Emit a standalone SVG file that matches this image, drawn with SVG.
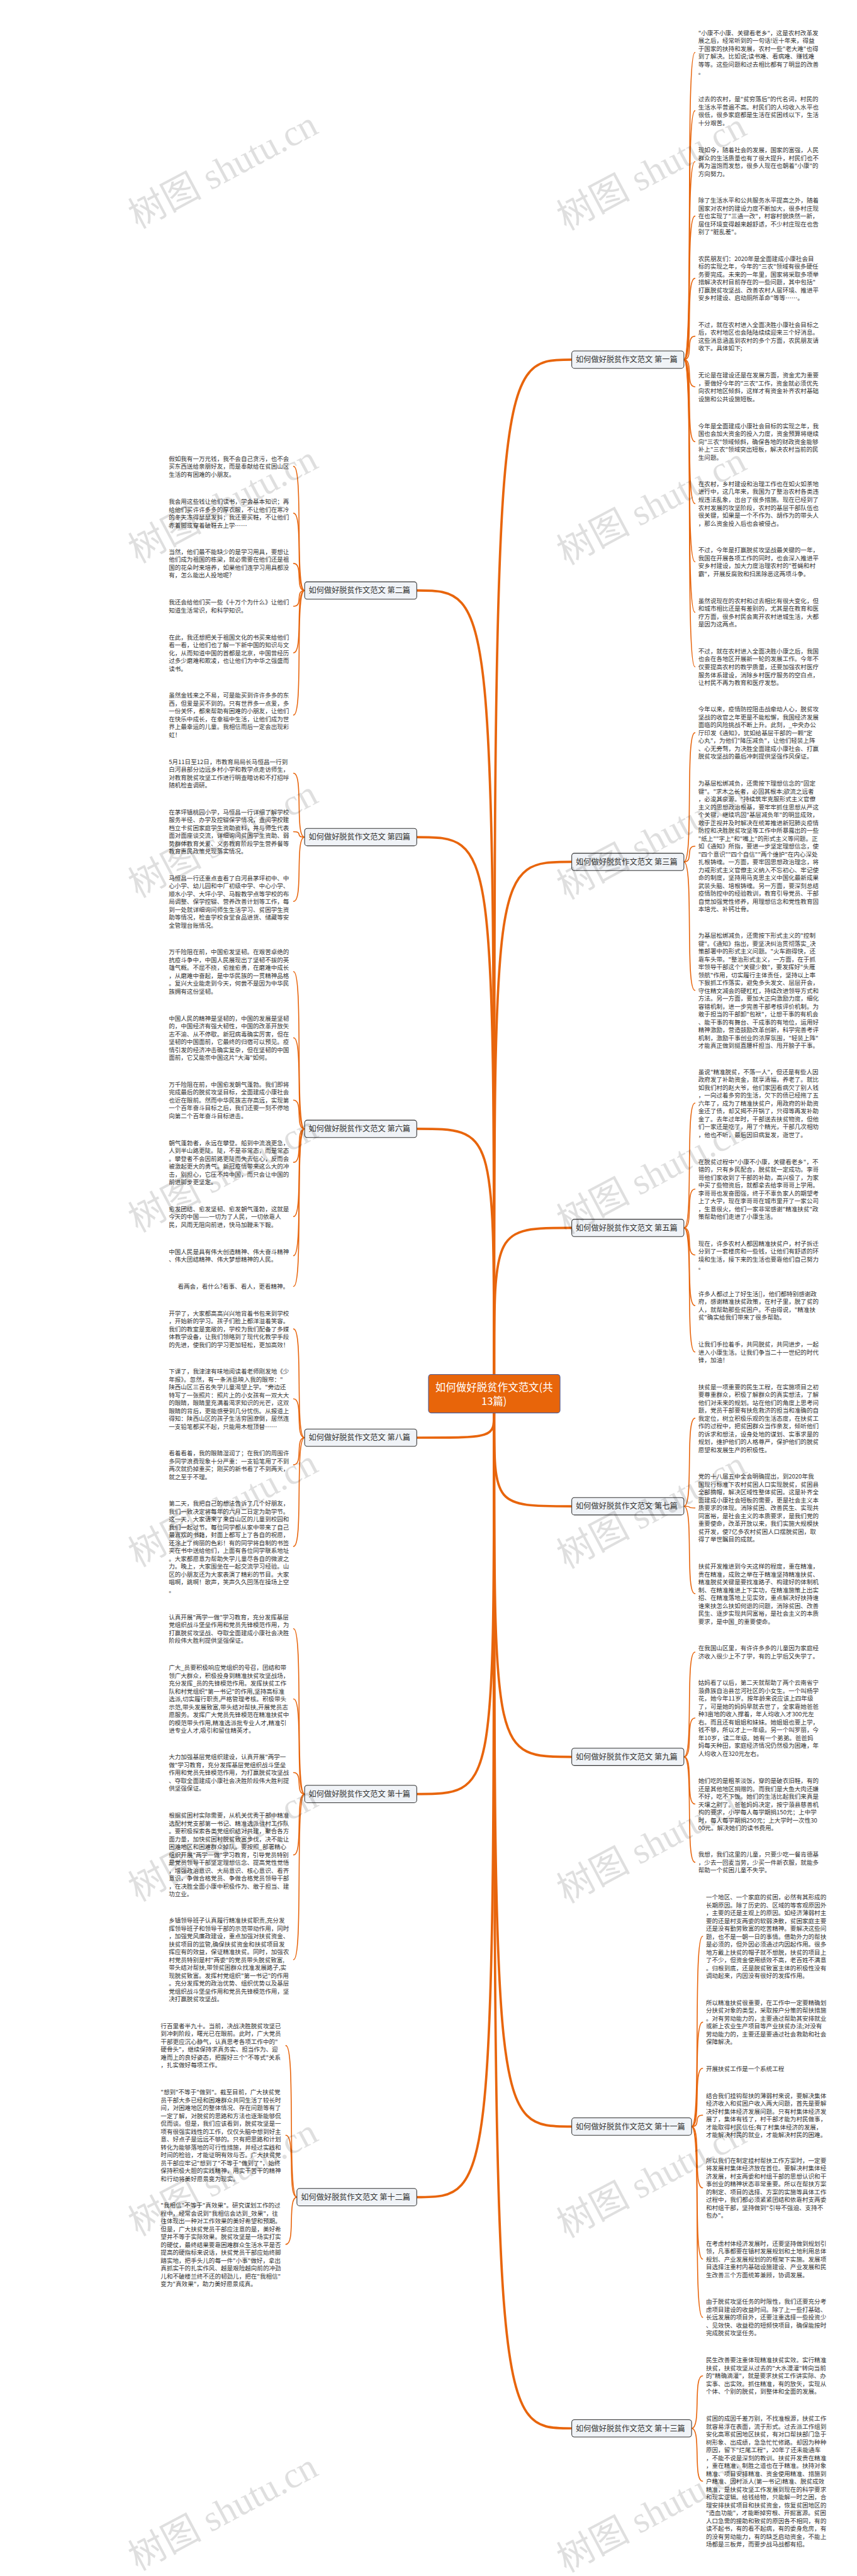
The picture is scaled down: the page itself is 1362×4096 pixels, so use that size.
<svg xmlns="http://www.w3.org/2000/svg" width="1362" height="4096" viewBox="0 0 1362 4096">
<style>
.t{font-family:"Noto Sans CJK SC","Noto Sans",sans-serif;font-size:18px;fill:#333}
.n{font-family:"Noto Sans CJK SC","Noto Sans",sans-serif;font-size:23px;fill:#333}
.nb{fill:#f0f3f7;stroke:#333;stroke-width:2}
.c{fill:none;stroke:#E8650C;stroke-width:3;stroke-linecap:round}
.m{stroke-width:7}
.wm{font-family:"Liberation Serif","Noto Sans CJK SC",serif;font-size:110px;fill:#000;opacity:.12}
</style>
<rect width="1362" height="4096" fill="#fff"/>
<g transform="scale(0.532)">
<g id="connectors">
<path class="c m" d="M1476,4108 C1476,1075 1476,1075 1708,1075"/>
<path class="c m" d="M1476,4108 C1476,1765 1476,1765 1245,1765"/>
<path class="c m" d="M1476,4108 C1476,2576 1476,2576 1708,2576"/>
<path class="c m" d="M1476,4108 C1476,2502 1476,2502 1245,2502"/>
<path class="c m" d="M1476,4108 C1476,3670 1476,3670 1708,3670"/>
<path class="c m" d="M1476,4108 C1476,3374 1476,3374 1245,3374"/>
<path class="c m" d="M1476,4223 C1476,4502 1476,4502 1708,4502"/>
<path class="c m" d="M1476,4223 C1476,4297 1476,4297 1245,4297"/>
<path class="c m" d="M1476,4223 C1476,5251 1476,5251 1708,5251"/>
<path class="c m" d="M1476,4223 C1476,5362 1476,5362 1245,5362"/>
<path class="c m" d="M1476,4223 C1476,6356 1476,6356 1708,6356"/>
<path class="c m" d="M1476,4223 C1476,6567 1476,6567 1245,6567"/>
<path class="c m" d="M1476,4223 C1476,7258 1476,7258 1708,7258"/>
<path class="c" d="M2043,1075 C2073,1075 2046,157 2076,157"/>
<path class="c" d="M2043,1075 C2073,1075 2046,331 2076,331"/>
<path class="c" d="M2043,1075 C2073,1075 2046,483 2076,483"/>
<path class="c" d="M2043,1075 C2073,1075 2046,646 2076,646"/>
<path class="c" d="M2043,1075 C2073,1075 2046,832 2076,832"/>
<path class="c" d="M2043,1075 C2073,1075 2046,1005 2076,1005"/>
<path class="c" d="M2043,1075 C2073,1075 2046,1156 2076,1156"/>
<path class="c" d="M2043,1075 C2073,1075 2046,1320 2076,1320"/>
<path class="c" d="M2043,1075 C2073,1075 2046,1505 2076,1505"/>
<path class="c" d="M2043,1075 C2073,1075 2046,1679 2076,1679"/>
<path class="c" d="M2043,1075 C2073,1075 2046,1830 2076,1830"/>
<path class="c" d="M2043,1075 C2073,1075 2046,1993 2076,1993"/>
<path class="c" d="M2043,2576 C2073,2576 2046,2190 2076,2190"/>
<path class="c" d="M2043,2576 C2073,2576 2046,2529 2076,2529"/>
<path class="c" d="M2043,2576 C2073,2576 2046,2960 2076,2960"/>
<path class="c" d="M2043,3670 C2073,3670 2046,3297 2076,3297"/>
<path class="c" d="M2043,3670 C2073,3670 2046,3554 2076,3554"/>
<path class="c" d="M2043,3670 C2073,3670 2046,3751 2076,3751"/>
<path class="c" d="M2043,3670 C2073,3670 2046,3902 2076,3902"/>
<path class="c" d="M2043,3670 C2073,3670 2046,4041 2076,4041"/>
<path class="c" d="M2043,4502 C2073,4502 2046,4239 2076,4239"/>
<path class="c" d="M2043,4502 C2073,4502 2046,4507 2076,4507"/>
<path class="c" d="M2043,4502 C2073,4502 2046,4763 2076,4763"/>
<path class="c" d="M2043,5251 C2073,5251 2046,4938 2076,4938"/>
<path class="c" d="M2043,5251 C2073,5251 2046,5135 2076,5135"/>
<path class="c" d="M2043,5251 C2073,5251 2046,5392 2076,5392"/>
<path class="c" d="M2043,5251 C2073,5251 2046,5566 2076,5566"/>
<path class="c" d="M2066,6356 C2096,6356 2069,5787 2099,5787"/>
<path class="c" d="M2066,6356 C2096,6356 2069,6044 2099,6044"/>
<path class="c" d="M2066,6356 C2096,6356 2069,6182 2099,6182"/>
<path class="c" d="M2066,6356 C2096,6356 2069,6322 2099,6322"/>
<path class="c" d="M2066,6356 C2096,6356 2069,6539 2099,6539"/>
<path class="c" d="M2066,6356 C2096,6356 2069,6752 2099,6752"/>
<path class="c" d="M2066,6356 C2096,6356 2069,6926 2099,6926"/>
<path class="c" d="M2066,7258 C2096,7258 2069,7101 2099,7101"/>
<path class="c" d="M2066,7258 C2096,7258 2069,7416 2099,7416"/>
<path class="c" d="M910,1765 C880,1765 907,1394 877,1394"/>
<path class="c" d="M910,1765 C880,1765 907,1534 877,1534"/>
<path class="c" d="M910,1765 C880,1765 907,1684 877,1684"/>
<path class="c" d="M910,1765 C880,1765 907,1812 877,1812"/>
<path class="c" d="M910,1765 C880,1765 907,1951 877,1951"/>
<path class="c" d="M910,1765 C880,1765 907,2137 877,2137"/>
<path class="c" d="M910,2502 C880,2502 907,2311 877,2311"/>
<path class="c" d="M910,2502 C880,2502 907,2486 877,2486"/>
<path class="c" d="M910,2502 C880,2502 907,2694 877,2694"/>
<path class="c" d="M910,3374 C880,3374 907,2904 877,2904"/>
<path class="c" d="M910,3374 C880,3374 907,3102 877,3102"/>
<path class="c" d="M910,3374 C880,3374 907,3288 877,3288"/>
<path class="c" d="M910,3374 C880,3374 907,3474 877,3474"/>
<path class="c" d="M910,3374 C880,3374 907,3636 877,3636"/>
<path class="c" d="M910,3374 C880,3374 907,3753 877,3753"/>
<path class="c" d="M910,3374 C880,3374 907,3845 877,3845"/>
<path class="c" d="M910,4297 C880,4297 907,3972 877,3972"/>
<path class="c" d="M910,4297 C880,4297 907,4181 877,4181"/>
<path class="c" d="M910,4297 C880,4297 907,4378 877,4378"/>
<path class="c" d="M910,4297 C880,4297 907,4622 877,4622"/>
<path class="c" d="M910,5362 C880,5362 907,4868 877,4868"/>
<path class="c" d="M910,5362 C880,5362 907,5078 877,5078"/>
<path class="c" d="M910,5362 C880,5362 907,5298 877,5298"/>
<path class="c" d="M910,5362 C880,5362 907,5544 877,5544"/>
<path class="c" d="M910,5362 C880,5362 907,5857 877,5857"/>
<path class="c" d="M887,6567 C857,6567 884,6114 854,6114"/>
<path class="c" d="M887,6567 C857,6567 884,6382 854,6382"/>
<path class="c" d="M887,6567 C857,6567 884,6708 854,6708"/>
</g>

<g id="center">
<rect x="1280" y="4108" width="393" height="115" rx="8" fill="#E8650A" stroke="#4B5C9A" stroke-width="2"/>
<text x="1476" y="4158" text-anchor="middle" font-family="Noto Sans CJK SC, sans-serif" font-size="31" fill="#fff">如何做好脱贫作文范文(共</text>
<text x="1476" y="4199" text-anchor="middle" font-family="Noto Sans CJK SC, sans-serif" font-size="31" fill="#fff">13篇)</text>
</g>

<g id="n1"><rect class="nb" x="1708" y="1049" width="335" height="52" rx="8"/><text class="n" x="1720" y="1083">如何做好脱贫作文范文 第一篇</text></g>
<g id="n2"><rect class="nb" x="910" y="1739" width="335" height="52" rx="8"/><text class="n" x="922" y="1773">如何做好脱贫作文范文 第二篇</text></g>
<g id="n3"><rect class="nb" x="1708" y="2550" width="335" height="52" rx="8"/><text class="n" x="1720" y="2584">如何做好脱贫作文范文 第三篇</text></g>
<g id="n4"><rect class="nb" x="910" y="2476" width="335" height="52" rx="8"/><text class="n" x="922" y="2510">如何做好脱贫作文范文 第四篇</text></g>
<g id="n5"><rect class="nb" x="1708" y="3644" width="335" height="52" rx="8"/><text class="n" x="1720" y="3678">如何做好脱贫作文范文 第五篇</text></g>
<g id="n6"><rect class="nb" x="910" y="3348" width="335" height="52" rx="8"/><text class="n" x="922" y="3382">如何做好脱贫作文范文 第六篇</text></g>
<g id="n7"><rect class="nb" x="1708" y="4476" width="335" height="52" rx="8"/><text class="n" x="1720" y="4510">如何做好脱贫作文范文 第七篇</text></g>
<g id="n8"><rect class="nb" x="910" y="4271" width="335" height="52" rx="8"/><text class="n" x="922" y="4305">如何做好脱贫作文范文 第八篇</text></g>
<g id="n9"><rect class="nb" x="1708" y="5225" width="335" height="52" rx="8"/><text class="n" x="1720" y="5259">如何做好脱贫作文范文 第九篇</text></g>
<g id="n10"><rect class="nb" x="910" y="5336" width="335" height="52" rx="8"/><text class="n" x="922" y="5370">如何做好脱贫作文范文 第十篇</text></g>
<g id="n11"><rect class="nb" x="1708" y="6330" width="358" height="52" rx="8"/><text class="n" x="1720" y="6364">如何做好脱贫作文范文 第十一篇</text></g>
<g id="n12"><rect class="nb" x="887" y="6541" width="358" height="52" rx="8"/><text class="n" x="899" y="6575">如何做好脱贫作文范文 第十二篇</text></g>
<g id="n13"><rect class="nb" x="1708" y="7232" width="358" height="52" rx="8"/><text class="n" x="1720" y="7266">如何做好脱贫作文范文 第十三篇</text></g>

<g id="r1"><text class="t" y="105"><tspan x="2086">"小康不小康、关键看老乡"，这是农村改革发</tspan><tspan x="2086" dy="23.5">展之后，经常听到的一句话!近十年来，得益</tspan><tspan x="2086" dy="23.5">于国家的扶持和发展，农村一些"老大难"也得</tspan><tspan x="2086" dy="23.5">到了解决。比如说;读书难、看病难、赚钱难</tspan><tspan x="2086" dy="23.5">等等。这些问题和过去相比都有了明显的改善</tspan><tspan x="2086" dy="23.5">。</tspan></text></g>
<g id="r2"><text class="t" y="303"><tspan x="2086">过去的农村，是"贫穷落后"的代名词，村民的</tspan><tspan x="2086" dy="23.5">生活水平普遍不高。村民们的人均收入水平也</tspan><tspan x="2086" dy="23.5">很低，很多家庭都是生活在贫困线以下，生活</tspan><tspan x="2086" dy="23.5">十分艰苦。</tspan></text></g>
<g id="r3"><text class="t" y="455"><tspan x="2086">现如今，随着社会的发展，国家的富强，人民</tspan><tspan x="2086" dy="23.5">群众的生活质量也有了很大提升，村民们也不</tspan><tspan x="2086" dy="23.5">再为温饱而发愁，很多人现在也朝着"小康"的</tspan><tspan x="2086" dy="23.5">方向努力。</tspan></text></g>
<g id="r4"><text class="t" y="606"><tspan x="2086">除了生活水平和公共服务水平提高之外，随着</tspan><tspan x="2086" dy="23.5">国家对农村的建设力度不断加大，很多村庄现</tspan><tspan x="2086" dy="23.5">在也实现了"三通一改"，村容村貌焕然一新，</tspan><tspan x="2086" dy="23.5">居住环境变得越来越舒适，不少村庄现在也告</tspan><tspan x="2086" dy="23.5">别了"脏乱差"。</tspan></text></g>
<g id="r5"><text class="t" y="780"><tspan x="2086">农民朋友们：2020年是全面建成小康社会目</tspan><tspan x="2086" dy="23.5">标的实现之年，今年的"三农"领域有很多硬任</tspan><tspan x="2086" dy="23.5">务要完成。未来的一年里，国家将采取多项举</tspan><tspan x="2086" dy="23.5">措解决农村目前存在的一些问题，其中包括"</tspan><tspan x="2086" dy="23.5">打赢脱贫攻坚战、改善农村人居环境、推进平</tspan><tspan x="2086" dy="23.5">安乡村建设、启动厕所革命"等等……。</tspan></text></g>
<g id="r6"><text class="t" y="977"><tspan x="2086">不过，就在农村进入全面决胜小康社会目标之</tspan><tspan x="2086" dy="23.5">后，农村地区也会陆陆续续迎来三个好消息。</tspan><tspan x="2086" dy="23.5">这些消息涵盖到农村的多个方面，农民朋友请</tspan><tspan x="2086" dy="23.5">收下。具体如下;</tspan></text></g>
<g id="r7"><text class="t" y="1128"><tspan x="2086">无论是在建设还是在发展方面，资金尤为重要</tspan><tspan x="2086" dy="23.5">，要做好今年的"三农"工作，资金就必须优先</tspan><tspan x="2086" dy="23.5">向农村地区倾斜，这样才有资金补齐农村基础</tspan><tspan x="2086" dy="23.5">设施和公共设施短板。</tspan></text></g>
<g id="r8"><text class="t" y="1280"><tspan x="2086">今年是全面建成小康社会目标的实现之年，我</tspan><tspan x="2086" dy="23.5">国也会加大资金的投入力度，资金预算将继续</tspan><tspan x="2086" dy="23.5">向"三农"领域倾斜，确保各地的财政资金能够</tspan><tspan x="2086" dy="23.5">补上"三农"领域突出短板，解决农村当前的民</tspan><tspan x="2086" dy="23.5">生问题。</tspan></text></g>
<g id="r9"><text class="t" y="1453"><tspan x="2086">在农村，乡村建设和治理工作也在如火如荼地</tspan><tspan x="2086" dy="23.5">进行中，这几年来，我国为了整治农村各类违</tspan><tspan x="2086" dy="23.5">规违法乱象，出台了很多措施。现在已经到了</tspan><tspan x="2086" dy="23.5">农村发展的攻坚阶段，农村的基层干部队伍也</tspan><tspan x="2086" dy="23.5">很关键，如果是一个不作为、胡作为的带头人</tspan><tspan x="2086" dy="23.5">，那么资金投入后也会被侵占。</tspan></text></g>
<g id="r10"><text class="t" y="1651"><tspan x="2086">不过，今年是打赢脱贫攻坚战最关键的一年，</tspan><tspan x="2086" dy="23.5">我国在开展各项工作的同时，也会深入推进平</tspan><tspan x="2086" dy="23.5">安乡村建设，加大力度治理农村的"苍蝇和村</tspan><tspan x="2086" dy="23.5">霸"，开展反腐败和扫黑除恶这两项斗争。</tspan></text></g>
<g id="r11"><text class="t" y="1802"><tspan x="2086">虽然说现在的农村和过去相比有很大变化，但</tspan><tspan x="2086" dy="23.5">和城市相比还是有差别的，尤其是在教育和医</tspan><tspan x="2086" dy="23.5">疗方面，很多村民会离开农村进城生活，大都</tspan><tspan x="2086" dy="23.5">是因为这两点。</tspan></text></g>
<g id="r12"><text class="t" y="1953"><tspan x="2086">不过，就在农村进入全面决胜小康之后，我国</tspan><tspan x="2086" dy="23.5">也会在各地区开展新一轮的发展工作。今年不</tspan><tspan x="2086" dy="23.5">仅要提高农村的教学质量，还要加强农村医疗</tspan><tspan x="2086" dy="23.5">服务体系建设，消除乡村医疗服务的空白点，</tspan><tspan x="2086" dy="23.5">让村民不再为教育和医疗发愁。</tspan></text></g>
<g id="r13"><text class="t" y="2126"><tspan x="2086">今年以来，疫情防控阻击战牵动人心，脱贫攻</tspan><tspan x="2086" dy="23.5">坚战的收官之年更是不能松懈，我国经济发展</tspan><tspan x="2086" dy="23.5">面临的风险挑战不断上升。此刻，_中央办公</tspan><tspan x="2086" dy="23.5">厅印发《通知》，犹如给基层干部的一颗"定</tspan><tspan x="2086" dy="23.5">心丸"，为他们"降压减负"，让他们轻装上阵</tspan><tspan x="2086" dy="23.5">、心无旁骛，为决胜全面建成小康社会、打赢</tspan><tspan x="2086" dy="23.5">脱贫攻坚战的最后冲刺提供坚强作风保证。</tspan></text></g>
<g id="r14"><text class="t" y="2348"><tspan x="2086">为基层松绑减负，还需按下理想信念的"固定</tspan><tspan x="2086" dy="23.5">键"。"求木之长者，必固其根本;欲流之远者</tspan><tspan x="2086" dy="23.5">，必浚其泉源。"持续筑牢克服形式主义官僚</tspan><tspan x="2086" dy="23.5">主义的思想政治根基，要牢牢抓住思想从严这</tspan><tspan x="2086" dy="23.5">个关键，继续巩固"基层减负年"的明显成效，</tspan><tspan x="2086" dy="23.5">敢于正视并及时解决在统筹推进新冠肺炎疫情</tspan><tspan x="2086" dy="23.5">防控和决胜脱贫攻坚等工作中所暴露出的一些</tspan><tspan x="2086" dy="23.5">"纸上""字上"和"嘴上"的形式主义等问题。正</tspan><tspan x="2086" dy="23.5">如《通知》所指，要进一步坚定理想信念，使</tspan><tspan x="2086" dy="23.5">"四个意识""四个自信""两个维护"在内心深处</tspan><tspan x="2086" dy="23.5">扎根铸魂。一方面，要牢固思想政治理念，将</tspan><tspan x="2086" dy="23.5">力戒形式主义官僚主义纳入不忘初心、牢记使</tspan><tspan x="2086" dy="23.5">命的制度，坚持用马克思主义中国化最新成果</tspan><tspan x="2086" dy="23.5">武装头脑、培根铸魂。另一方面，要深刻总结</tspan><tspan x="2086" dy="23.5">疫情防控中的经验教训，教育引导党员、干部</tspan><tspan x="2086" dy="23.5">自觉加强党性修养，用理想信念和党性教育固</tspan><tspan x="2086" dy="23.5">本培元、补钙壮骨。</tspan></text></g>
<g id="r15"><text class="t" y="2803"><tspan x="2086">为基层松绑减负，还需按下形式主义的"控制</tspan><tspan x="2086" dy="23.5">键"。《通知》指出，要坚决纠治贯彻落实_决</tspan><tspan x="2086" dy="23.5">策部署中的形式主义问题。"火车跑得快，还</tspan><tspan x="2086" dy="23.5">靠车头带。"整治形式主义，一方面，在于抓</tspan><tspan x="2086" dy="23.5">牢领导干部这个"关键少数"，要发挥好"头雁</tspan><tspan x="2086" dy="23.5">领航"作用，切实履行主体责任，坚持以上率</tspan><tspan x="2086" dy="23.5">下狠抓工作落实，避免多头发文、层层开会，</tspan><tspan x="2086" dy="23.5">守住精文减会的硬杠杠，持续改进领导方式和</tspan><tspan x="2086" dy="23.5">方法。另一方面，要加大正向激励力度，细化</tspan><tspan x="2086" dy="23.5">容错机制，进一步完善干部考核评价机制。为</tspan><tspan x="2086" dy="23.5">敢于担当的干部卸"包袱"，让想干事的有机会</tspan><tspan x="2086" dy="23.5">、能干事的有舞台、干成事的有地位，运用好</tspan><tspan x="2086" dy="23.5">精神激励，营造鼓励改革创新，科学完善考评</tspan><tspan x="2086" dy="23.5">机制，激励干事创业的浓厚氛围，"轻装上阵"</tspan><tspan x="2086" dy="23.5">才能真正做到挺直腰杆担当、甩开膀子干事。</tspan></text></g>
<g id="r16"><text class="t" y="3210"><tspan x="2086">虽说"精准脱贫，不落一人"，但还是有些人因</tspan><tspan x="2086" dy="23.5">政府发了补助资金，就享清福，养老了。就比</tspan><tspan x="2086" dy="23.5">如我们村的赵大爷，他们家因看病欠了别人钱</tspan><tspan x="2086" dy="23.5">，一向过着多穷的生活，欠下的债已经拖了五</tspan><tspan x="2086" dy="23.5">六年了，成为了精准扶贫户，用政府的补助资</tspan><tspan x="2086" dy="23.5">金还了债，却又揭不开锅了，只得等再发补助</tspan><tspan x="2086" dy="23.5">金了。去年过年时，干部送去扶贫物资，但他</tspan><tspan x="2086" dy="23.5">们一家还是吃了，用了个精光，干部几次相劝</tspan><tspan x="2086" dy="23.5">，他也不听，最后因旧病复发，逝世了。</tspan></text></g>
<g id="r17"><text class="t" y="3479"><tspan x="2086">在脱贫过程中"小康不小康，关键看老乡"，不</tspan><tspan x="2086" dy="23.5">错的，只有乡民配合，脱贫就一定成功。李哥</tspan><tspan x="2086" dy="23.5">哥他们家收到了干部的补助，高兴极了，为家</tspan><tspan x="2086" dy="23.5">中买了些物资后，就都拿去给李哥哥上学用。</tspan><tspan x="2086" dy="23.5">李哥哥也发奋图强，终于不辜负家人的期望考</tspan><tspan x="2086" dy="23.5">上了大学，现在李哥哥在城市里开了一家公司</tspan><tspan x="2086" dy="23.5">，生意很火，他们一家非常感谢"精准扶贫"政</tspan><tspan x="2086" dy="23.5">策帮助他们走进了小康生活。</tspan></text></g>
<g id="r18"><text class="t" y="3723"><tspan x="2086">现在，许多农村人都因精准扶贫户，村子拆迁</tspan><tspan x="2086" dy="23.5">分到了一套楼房和一些钱，让他们有舒适的环</tspan><tspan x="2086" dy="23.5">境和生活，接下来的生活也要靠他们自己努力</tspan><tspan x="2086" dy="23.5">。</tspan></text></g>
<g id="r19"><text class="t" y="3874"><tspan x="2086">许多人都过上了好生活[]，他们都特别感谢政</tspan><tspan x="2086" dy="23.5">府，感谢精准扶贫政策，在村子里，脱了贫的</tspan><tspan x="2086" dy="23.5">人，就帮助那些贫困户。不由得说，"精准扶</tspan><tspan x="2086" dy="23.5">贫"确实给我们带来了很多帮助。</tspan></text></g>
<g id="r20"><text class="t" y="4025"><tspan x="2086">让我们手拉着手，共同脱贫，共同进步，一起</tspan><tspan x="2086" dy="23.5">进入小康生活。让我们争当二十一世纪的时代</tspan><tspan x="2086" dy="23.5">锋，加油！</tspan></text></g>
<g id="r21"><text class="t" y="4152"><tspan x="2086">扶贫是一项重要的民生工程，在实施项目之初</tspan><tspan x="2086" dy="23.5">要尊重群众，积极了解群众的真实想法，了解</tspan><tspan x="2086" dy="23.5">他们对未来的规划。站在他们的角度上思考问</tspan><tspan x="2086" dy="23.5">题，党员干部要有扶危救济的担当和准确的自</tspan><tspan x="2086" dy="23.5">我定位，树立积极乐观的生活态度，在扶贫工</tspan><tspan x="2086" dy="23.5">作的过程中，把贫困群众当作亲友，倾听他们</tspan><tspan x="2086" dy="23.5">的诉求和想法，设身处地的谋划、实事求是的</tspan><tspan x="2086" dy="23.5">规划，维护他们的人格尊严，保护他们的脱贫</tspan><tspan x="2086" dy="23.5">愿望和发展生产的积极性。</tspan></text></g>
<g id="r22"><text class="t" y="4420"><tspan x="2086">党的十八届五中全会明确提出，到2020年我</tspan><tspan x="2086" dy="23.5">国现行标准下农村贫困人口实现脱贫，贫困县</tspan><tspan x="2086" dy="23.5">全部摘帽，解决区域性整体贫困。这是补齐全</tspan><tspan x="2086" dy="23.5">面建成小康社会短板的需要，更是社会主义本</tspan><tspan x="2086" dy="23.5">质要求的体现。消除贫困、改善民生、实现共</tspan><tspan x="2086" dy="23.5">同富裕，是社会主义的本质要求，是我们党的</tspan><tspan x="2086" dy="23.5">重要使命，改革开放以来，我们实施大规模扶</tspan><tspan x="2086" dy="23.5">贫开发，使7亿多农村贫困人口摆脱贫困，取</tspan><tspan x="2086" dy="23.5">得了举世瞩目的成就。</tspan></text></g>
<g id="r23"><text class="t" y="4688"><tspan x="2086">扶贫开发推进到今天这样的程度，重在精准，</tspan><tspan x="2086" dy="23.5">贵在精准，成败之举在于精准坚持精准扶贫、</tspan><tspan x="2086" dy="23.5">精准脱贫关键是要找准路子、构建好的体制机</tspan><tspan x="2086" dy="23.5">制、在精准推进上下实功，在精准施策上出实</tspan><tspan x="2086" dy="23.5">招、在精准落地上见实效，重点解决好扶持谁</tspan><tspan x="2086" dy="23.5">谁来扶怎么扶如何退的问题，消除贫困、改善</tspan><tspan x="2086" dy="23.5">民生、逐步实现共同富裕，是社会主义的本质</tspan><tspan x="2086" dy="23.5">要求，是中国_的重要使命。</tspan></text></g>
<g id="r24"><text class="t" y="4933"><tspan x="2086">在我国山区里，有许许多多的儿童因为家庭经</tspan><tspan x="2086" dy="23.5">济收入很少上不了学，有的上学后又失学了。</tspan></text></g>
<g id="r25"><text class="t" y="5036"><tspan x="2086">姑妈看了以后，第二天就帮助了两个云南省宁</tspan><tspan x="2086" dy="23.5">蒗彝族自治县岔河社区的小女生。一个叫杨学</tspan><tspan x="2086" dy="23.5">花，她今年11岁。按年龄来说应该上四年级</tspan><tspan x="2086" dy="23.5">了，可是她的妈妈早就去世了，全家靠她爸爸</tspan><tspan x="2086" dy="23.5">种3亩地的收入撑着，年人均收入才300元左</tspan><tspan x="2086" dy="23.5">右。而且还有姐姐和妹妹。她姐姐也要上学，</tspan><tspan x="2086" dy="23.5">钱不够，所以才上一年级。另一个叫罗丽，今</tspan><tspan x="2086" dy="23.5">年10岁，读二年级。她有一个弟弟。爸爸妈</tspan><tspan x="2086" dy="23.5">妈每天种田，家庭经济情况仍然极为困难，年</tspan><tspan x="2086" dy="23.5">人均收入在320元左右。</tspan></text></g>
<g id="r26"><text class="t" y="5329"><tspan x="2086">她们吃的是粗茶淡饭，穿的是破衣旧鞋，有的</tspan><tspan x="2086" dy="23.5">还是其他地区捐赠的。而我们是大鱼大肉还嫌</tspan><tspan x="2086" dy="23.5">不好，吃不下饭。她们的生活比起我们来真是</tspan><tspan x="2086" dy="23.5">天壤之别了。爸爸妈妈决定，按宁蒗县慈善机</tspan><tspan x="2086" dy="23.5">构的要求，小学每人每学期捐150元；上中学</tspan><tspan x="2086" dy="23.5">时，每人每学期捐250元；上大学时一次性30</tspan><tspan x="2086" dy="23.5">00元。解决她们的读书费用。</tspan></text></g>
<g id="r27"><text class="t" y="5549"><tspan x="2086">我想，我们这里的儿童，只要少吃一餐肯德基</tspan><tspan x="2086" dy="23.5">，少去一回麦当劳，少买一件新衣服，就能多</tspan><tspan x="2086" dy="23.5">帮助一个贫困儿童不失学。</tspan></text></g>
<g id="r28"><text class="t" y="5677"><tspan x="2109">一个地区、一个家庭的贫困，必然有其形成的</tspan><tspan x="2109" dy="23.5">长期原因。除了历史的、区域的等客观原因外</tspan><tspan x="2109" dy="23.5">，主要的还是主观上的原因。如经济薄弱村主</tspan><tspan x="2109" dy="23.5">要的还是村支两委的软弱涣散，贫困家庭主要</tspan><tspan x="2109" dy="23.5">还是没有勤劳致富的吃苦精神。要解决这些问</tspan><tspan x="2109" dy="23.5">题，也不是一朝一日的事情。借助外力的帮扶</tspan><tspan x="2109" dy="23.5">是必须的，但外因必须通过内因起作用。很多</tspan><tspan x="2109" dy="23.5">地方戴上扶贫的帽子就不想脱，扶贫的项目上</tspan><tspan x="2109" dy="23.5">了不少，但资金使用绩效不高，老百姓不满意</tspan><tspan x="2109" dy="23.5">。归根到底，还是脱贫致富主体的积极性没有</tspan><tspan x="2109" dy="23.5">调动起来，内因没有很好的发挥作用。</tspan></text></g>
<g id="r29"><text class="t" y="5992"><tspan x="2109">所以精准扶贫很重要，在工作中一定要精确划</tspan><tspan x="2109" dy="23.5">分扶贫对象的类型，采取按户分策的帮扶措施</tspan><tspan x="2109" dy="23.5">。对有劳动能力的，主要通过帮助其安排就业</tspan><tspan x="2109" dy="23.5">或新上农业生产项目等产业扶贫办法;对没有</tspan><tspan x="2109" dy="23.5">劳动能力的，主要还是要通过社会救助和社会</tspan><tspan x="2109" dy="23.5">保障解决。</tspan></text></g>
<g id="r30"><text class="t" y="6189"><tspan x="2109">开展扶贫工作是一个系统工程</tspan></text></g>
<g id="r31"><text class="t" y="6270"><tspan x="2109">结合我们挂钩帮扶的薄弱村来说，要解决集体</tspan><tspan x="2109" dy="23.5">经济收入和贫困户收入两大问题，首先是要解</tspan><tspan x="2109" dy="23.5">决好村集体经济发展问题。只有村集体经济发</tspan><tspan x="2109" dy="23.5">展了，集体有钱了，村干部才能为村民做事，</tspan><tspan x="2109" dy="23.5">才能取得村民信任;有了村集体经济的发展，</tspan><tspan x="2109" dy="23.5">才能解决村民的就业，才能解决村民的困难。</tspan></text></g>
<g id="r32"><text class="t" y="6464"><tspan x="2109">所以我们在制定挂村帮扶工作方案时，一定要</tspan><tspan x="2109" dy="23.5">将发展村集体经济放在首位。要解决村集体经</tspan><tspan x="2109" dy="23.5">济发展，村支两委和村组干部的思想认识和干</tspan><tspan x="2109" dy="23.5">事创业的精神状态非常重要。所以在帮扶方案</tspan><tspan x="2109" dy="23.5">的制定、项目的选择、方案的实施等具体工作</tspan><tspan x="2109" dy="23.5">过程中，我们都必须紧紧团结和依靠村支两委</tspan><tspan x="2109" dy="23.5">和村组干部，坚持做到"引导不强迫、支持不</tspan><tspan x="2109" dy="23.5">包办"。</tspan></text></g>
<g id="r33"><text class="t" y="6712"><tspan x="2109">在考虑村体经济发展时，还要坚持做到规划引</tspan><tspan x="2109" dy="23.5">领，凡事都要在镇村发展规划和土地利用总体</tspan><tspan x="2109" dy="23.5">规划、产业发展规划的的框架下实施。发展项</tspan><tspan x="2109" dy="23.5">目选择注重村内基础设施建设、产业发展和民</tspan><tspan x="2109" dy="23.5">生改善三个方面统筹兼顾，协调发展。</tspan></text></g>
<g id="r34"><text class="t" y="6886"><tspan x="2109">由于脱贫攻坚任务的时限性，我们还要充分考</tspan><tspan x="2109" dy="23.5">虑项目建设的收益时间。除了上一些打基础、</tspan><tspan x="2109" dy="23.5">长远发展的项目外，还要注重选择一些投资少</tspan><tspan x="2109" dy="23.5">、见效快、收益稳的短频快项目，确保能按时</tspan><tspan x="2109" dy="23.5">完成脱贫攻坚任务。</tspan></text></g>
<g id="r35"><text class="t" y="7061"><tspan x="2109">民生改善要注重体现精准扶贫实效。实行精准</tspan><tspan x="2109" dy="23.5">扶贫，扶贫攻坚从过去的"大水漫灌"转向当前</tspan><tspan x="2109" dy="23.5">的"精确滴灌"，就是要求扶贫工作讲实际、办</tspan><tspan x="2109" dy="23.5">实事、出实效。抓住精准，有的放矢，实现从</tspan><tspan x="2109" dy="23.5">个体、个别的脱贫，到整体和全面的发展。</tspan></text></g>
<g id="r36"><text class="t" y="7235"><tspan x="2109">贫困的成因千差万别，不找准根源，扶贫工作</tspan><tspan x="2109" dy="23.5">就容易浮在表面，流于形式。过去派工作组到</tspan><tspan x="2109" dy="23.5">安化高寒贫困地区扶贫，有对口帮扶部门急于</tspan><tspan x="2109" dy="23.5">树形象、出成绩，急急忙忙修路。却因为种种</tspan><tspan x="2109" dy="23.5">原因，留下"烂尾工程"，20年了还未能通车</tspan><tspan x="2109" dy="23.5">，不能不说是深刻的教训。扶贫开发贵在精准</tspan><tspan x="2109" dy="23.5">，重在精准，制胜之道也在于精准。扶持对象</tspan><tspan x="2109" dy="23.5">精准、项目安排精准、资金使用精准、措施到</tspan><tspan x="2109" dy="23.5">户精准、因村派人(第一书记)精准、脱贫成效</tspan><tspan x="2109" dy="23.5">精准，是扶贫攻坚工作发展到现在的科学要求</tspan><tspan x="2109" dy="23.5">和现实逻辑。给钱给物，只能解一时之困，合</tspan><tspan x="2109" dy="23.5">理安排扶贫项目和扶贫资金，恢复贫困地区的</tspan><tspan x="2109" dy="23.5">"造血功能"，才能断掉穷根、开掘富源。贫困</tspan><tspan x="2109" dy="23.5">人口急需的援助和致贫的原因各不相同，有的</tspan><tspan x="2109" dy="23.5">读不起书，有的看不起病，有的委身危房，有</tspan><tspan x="2109" dy="23.5">的没有劳动能力，有的缺乏启动资金，不能上</tspan><tspan x="2109" dy="23.5">场都是三板斧，而要步战马战都有招。</tspan></text></g>

<g id="l1"><text class="t" y="1377"><tspan x="504">假如我有一万元钱，我不会自己贪污，也不会</tspan><tspan x="504" dy="23.5">买东西送给亲朋好友，而是奉献给在贫困山区</tspan><tspan x="504" dy="23.5">生活的有困难的小朋友。</tspan></text></g>
<g id="l2"><text class="t" y="1506"><tspan x="504">我会用这些钱让他们读书，学会基本知识；再</tspan><tspan x="504" dy="23.5">给他们买许许多多的厚衣服，不让他们在寒冷</tspan><tspan x="504" dy="23.5">的冬天冻得瑟瑟发抖；我还要买鞋，不让他们</tspan><tspan x="504" dy="23.5">赤着脚或穿着破鞋去上学……</tspan></text></g>
<g id="l3"><text class="t" y="1656"><tspan x="504">当然，他们最不能缺少的是学习用具，要想让</tspan><tspan x="504" dy="23.5">他们成为祖国的栋梁，就必需要在他们还是祖</tspan><tspan x="504" dy="23.5">国的花朵时来培养，如果他们连学习用具都没</tspan><tspan x="504" dy="23.5">有，怎么能出人投地呢?</tspan></text></g>
<g id="l4"><text class="t" y="1807"><tspan x="504">我还会给他们买一些《十万个为什么》让他们</tspan><tspan x="504" dy="23.5">知道生活常识，和科学知识。</tspan></text></g>
<g id="l5"><text class="t" y="1911"><tspan x="504">在此，我还想把关于祖国文化的书买来给他们</tspan><tspan x="504" dy="23.5">看一看，让他们也了解一下新中国的知识与文</tspan><tspan x="504" dy="23.5">化，从而知道中国的首都是北京，中国曾经历</tspan><tspan x="504" dy="23.5">过多少磨难和欺凌，也让他们为中华之强盛而</tspan><tspan x="504" dy="23.5">读书。</tspan></text></g>
<g id="l6"><text class="t" y="2085"><tspan x="504">虽然金钱来之不易，可是能买到许许多多的东</tspan><tspan x="504" dy="23.5">西，但爱是买不到的。只有世界多一点爱，多</tspan><tspan x="504" dy="23.5">一份关怀，都来帮助有困难的小朋友，让他们</tspan><tspan x="504" dy="23.5">在快乐中成长，在幸福中生活，让他们成为世</tspan><tspan x="504" dy="23.5">界上最幸运的儿童。我相信雨后一定会出现彩</tspan><tspan x="504" dy="23.5">虹！</tspan></text></g>
<g id="l7"><text class="t" y="2283"><tspan x="504">5月11日至12日，市教育局局长马恒昌一行到</tspan><tspan x="504" dy="23.5">白河县部分边远乡村小学和教学点走访师生，</tspan><tspan x="504" dy="23.5">对教育脱贫攻坚工作进行明查暗访和不打招呼</tspan><tspan x="504" dy="23.5">随机检查调研。</tspan></text></g>
<g id="l8"><text class="t" y="2434"><tspan x="504">在茅坪镇桃园小学，马恒昌一行详细了解学校</tspan><tspan x="504" dy="23.5">服务半径、办学及控辍保学情况，查阅学校建</tspan><tspan x="504" dy="23.5">档立卡贫困家庭学生资助资料，并与师生代表</tspan><tspan x="504" dy="23.5">面对面座谈交流，详细询问贫困学生资助、弱</tspan><tspan x="504" dy="23.5">势群体教育关爱、义务教育阶段学生营养餐等</tspan><tspan x="504" dy="23.5">教育惠民政策兑现落实情况。</tspan></text></g>
<g id="l9"><text class="t" y="2631"><tspan x="504">马恒昌一行还重点查看了白河县茅坪初中、中</tspan><tspan x="504" dy="23.5">心小学、幼儿园和中厂初级中学、中心小学、</tspan><tspan x="504" dy="23.5">顺水小学、大坪小学、马鞍教学点等学校的布</tspan><tspan x="504" dy="23.5">局调整、保学控辍、营养改善计划等工作，每</tspan><tspan x="504" dy="23.5">到一处就详细询问师生生活学习、贫困学生资</tspan><tspan x="504" dy="23.5">助等情况，检查学校食堂食品进货、储藏等安</tspan><tspan x="504" dy="23.5">全管理台账情况。</tspan></text></g>
<g id="l10"><text class="t" y="2852"><tspan x="504">万千险阻在前，中国愈发坚韧。在艰苦卓绝的</tspan><tspan x="504" dy="23.5">抗疫斗争中，中国人民展现出了坚韧不拔的英</tspan><tspan x="504" dy="23.5">雄气概。不屈不挠，愈挫愈勇，在磨难中成长</tspan><tspan x="504" dy="23.5">，从磨难中奋起，是中华民族的一贯精神品格</tspan><tspan x="504" dy="23.5">。复兴大业能走到今天，何尝不是因为中华民</tspan><tspan x="504" dy="23.5">族拥有这份坚韧。</tspan></text></g>
<g id="l11"><text class="t" y="3050"><tspan x="504">中国人民的精神是坚韧的，中国的发展是坚韧</tspan><tspan x="504" dy="23.5">的，中国经济有强大韧性，中国的改革开放矢</tspan><tspan x="504" dy="23.5">志不渝、从不停歇。新冠病毒确实厉害，但在</tspan><tspan x="504" dy="23.5">坚韧的中国面前，它最终的归宿可以预见。疫</tspan><tspan x="504" dy="23.5">情引发的经济冲击确实复杂，但在坚韧的中国</tspan><tspan x="504" dy="23.5">面前，它又能奈中国这片"大海"如何。</tspan></text></g>
<g id="l12"><text class="t" y="3248"><tspan x="504">万千险阻在前，中国愈发朝气蓬勃。我们即将</tspan><tspan x="504" dy="23.5">完成最后的脱贫攻坚目标，全面建成小康社会</tspan><tspan x="504" dy="23.5">也近在眼前。然而中华民族志存高远，实现第</tspan><tspan x="504" dy="23.5">一个百年奋斗目标之后，我们还要一刻不停地</tspan><tspan x="504" dy="23.5">向第二个百年奋斗目标进击。</tspan></text></g>
<g id="l13"><text class="t" y="3422"><tspan x="504">朝气蓬勃者，永远在攀登。船到中流浪更急，</tspan><tspan x="504" dy="23.5">人到半山路更陡。陡，不是非常态，而是常态</tspan><tspan x="504" dy="23.5">。攀登者不会因前路更陡而失去信心，反而会</tspan><tspan x="504" dy="23.5">被激起更大的勇气。新冠疫情带来这么大的冲</tspan><tspan x="504" dy="23.5">击，别担心，它压不垮中国，而只会让中国的</tspan><tspan x="504" dy="23.5">前进脚步更坚定。</tspan></text></g>
<g id="l14"><text class="t" y="3620"><tspan x="504">愈发团结、愈发坚韧、愈发朝气蓬勃，这就是</tspan><tspan x="504" dy="23.5">今天的中国——一切为了人民，一切依靠人</tspan><tspan x="504" dy="23.5">民，风雨无阻向前进，快马加鞭未下鞍。</tspan></text></g>
<g id="l15"><text class="t" y="3748"><tspan x="504">中国人民是具有伟大创造精神、伟大奋斗精神</tspan><tspan x="504" dy="23.5">、伟大团结精神、伟大梦想精神的人民。</tspan></text></g>
<g id="l16"><text class="t" y="3852"><tspan x="531">看两会，看什么?看事、看人，更看精神。</tspan></text></g>
<g id="l17"><text class="t" y="3932"><tspan x="504">开学了，大家都高高兴兴地背着书包来到学校</tspan><tspan x="504" dy="23.5">，开始新的学习。孩子们脸上都洋溢着笑容。</tspan><tspan x="504" dy="23.5">我们的教室是宽敞的，学校为我们配备了多媒</tspan><tspan x="504" dy="23.5">体教学设备，让我们领略到了现代化教学手段</tspan><tspan x="504" dy="23.5">的先进，使我们的学习更加轻松，更加高效！</tspan></text></g>
<g id="l18"><text class="t" y="4106"><tspan x="504">下课了，我津津有味地阅读着老师刚发地《少</tspan><tspan x="504" dy="23.5">年报》。忽然，有一条消息映入我的眼帘："</tspan><tspan x="504" dy="23.5">陕西山区三百名失学儿童渴望上学。"旁边还</tspan><tspan x="504" dy="23.5">特写了一张照片：照片上的小女孩有一双大大</tspan><tspan x="504" dy="23.5">的眼睛，眼睛里充满着渴求知识的光芒，这双</tspan><tspan x="504" dy="23.5">眼睛的背后，更能感受到几分忧伤。从报道上</tspan><tspan x="504" dy="23.5">得知：陕西山区的孩子生活穷困潦倒，居然连</tspan><tspan x="504" dy="23.5">一支铅笔都买不起，只能用木棍顶替……</tspan></text></g>
<g id="l19"><text class="t" y="4350"><tspan x="504">看着看着，我的眼睛湿润了；在我们的周围许</tspan><tspan x="504" dy="23.5">多同学浪费现象十分严重：一支铅笔用了不到</tspan><tspan x="504" dy="23.5">两次就扔掉重买；刚买的新书看了不到两天，</tspan><tspan x="504" dy="23.5">就之至于不理。</tspan></text></g>
<g id="l20"><text class="t" y="4500"><tspan x="504">第二天，我把自己的想法告诉了几个好朋友，</tspan><tspan x="504" dy="23.5">我们一致决定将每年的六月二日定为助学节。</tspan><tspan x="504" dy="23.5">这一天，大家请来了来自山区的儿童到校园和</tspan><tspan x="504" dy="23.5">我们一起过节。每位同学都从家中带来了自己</tspan><tspan x="504" dy="23.5">最喜欢的书籍，封面上都写上了各自的祝愿，</tspan><tspan x="504" dy="23.5">还涂上了绚丽的色彩！有的同学将自制的书签</tspan><tspan x="504" dy="23.5">夹在书中送给他们，上面有各位同学联系地址</tspan><tspan x="504" dy="23.5">。大家都愿意为帮助失学儿童尽各自的微波之</tspan><tspan x="504" dy="23.5">力。晚上，大家围坐在一起交流学习经验。山</tspan><tspan x="504" dy="23.5">区的小朋友还为大家表演了精彩的节目。大家</tspan><tspan x="504" dy="23.5">唱啊，跳啊！歌声，笑声久久回荡在操场上空</tspan><tspan x="504" dy="23.5">。</tspan></text></g>
<g id="l21"><text class="t" y="4840"><tspan x="504">认真开展"两学一做"学习教育，充分发挥基层</tspan><tspan x="504" dy="23.5">党组织战斗堡垒作用和党员先锋模范作用，为</tspan><tspan x="504" dy="23.5">打赢脱贫攻坚战、夺取全面建成小康社会决胜</tspan><tspan x="504" dy="23.5">阶段伟大胜利提供坚强保证。</tspan></text></g>
<g id="l22"><text class="t" y="4991"><tspan x="504">广大_员要积极响应党组织的号召，团结和带</tspan><tspan x="504" dy="23.5">领广大群众，积极投身到精准扶贫攻坚战场，</tspan><tspan x="504" dy="23.5">充分发挥_员的先锋模范作用。发挥扶贫工作</tspan><tspan x="504" dy="23.5">队和村党组织"第一书记"的作用,坚持高标准</tspan><tspan x="504" dy="23.5">选派,切实履行职责,严格管理考核。积极带头</tspan><tspan x="504" dy="23.5">示范,带头发展致富,带头结对帮扶,开展党员志</tspan><tspan x="504" dy="23.5">愿服务。发挥广大党员先锋模范在精准扶贫中</tspan><tspan x="504" dy="23.5">的模范带头作用,精准选派批专业人才,精准引</tspan><tspan x="504" dy="23.5">进专业人才,吸引和留住精英才。</tspan></text></g>
<g id="l23"><text class="t" y="5258"><tspan x="504">大力加强基层党组织建设，认真开展"两学一</tspan><tspan x="504" dy="23.5">做"学习教育，充分发挥基层党组织战斗堡垒</tspan><tspan x="504" dy="23.5">作用和党员先锋模范作用，为打赢脱贫攻坚战</tspan><tspan x="504" dy="23.5">、夺取全面建成小康社会决胜阶段伟大胜利提</tspan><tspan x="504" dy="23.5">供坚强保证。</tspan></text></g>
<g id="l24"><text class="t" y="5433"><tspan x="504">根据贫困村实际需要，从机关优秀干部中精准</tspan><tspan x="504" dy="23.5">选配村党支部第一书记、精准选派驻村工作队</tspan><tspan x="504" dy="23.5">。要积极探索各类党组织结对共建，聚合各方</tspan><tspan x="504" dy="23.5">面力量，加快贫困村脱贫致富步伐，决不能让</tspan><tspan x="504" dy="23.5">困难地区和困难群众掉队。要按照_部署精心</tspan><tspan x="504" dy="23.5">组织开展"两学一做"学习教育，引导党员特别</tspan><tspan x="504" dy="23.5">是党员领导干部坚定理想信念、提高党性觉悟</tspan><tspan x="504" dy="23.5">，增强政治意识、大局意识、核心意识、看齐</tspan><tspan x="504" dy="23.5">意识，争做合格党员、争做合格党员领导干部</tspan><tspan x="504" dy="23.5">，在决胜全面小康中积极作为、敢于担当、建</tspan><tspan x="504" dy="23.5">功立业。</tspan></text></g>
<g id="l25"><text class="t" y="5747"><tspan x="504">乡镇领导班子认真履行精准扶贫职责,充分发</tspan><tspan x="504" dy="23.5">挥领导班子和领导干部的示范带动作用，同时</tspan><tspan x="504" dy="23.5">，加强党风廉政建设，重点加强对扶贫资金、</tspan><tspan x="504" dy="23.5">扶贫项目的监管,确保扶贫资金和扶贫项目发</tspan><tspan x="504" dy="23.5">挥应有的效益，保证精准扶贫。同时，加强农</tspan><tspan x="504" dy="23.5">村党员特别是村"两委"的党员带头脱贫致富,</tspan><tspan x="504" dy="23.5">带头结对帮扶,带领贫困群众找准发展路子,实</tspan><tspan x="504" dy="23.5">现脱贫致富。发挥村党组织"第一书记"的作用</tspan><tspan x="504" dy="23.5">。充分发挥党的政治优势、组织优势以及基层</tspan><tspan x="504" dy="23.5">党组织战斗堡垒作用和党员先锋模范作用，坚</tspan><tspan x="504" dy="23.5">决打赢脱贫攻坚战。</tspan></text></g>
<g id="l26"><text class="t" y="6062"><tspan x="480">行百里者半九十。当前，决战决胜脱贫攻坚已</tspan><tspan x="480" dy="23.5">到冲刺阶段，曙光已在眼前。此时，广大党员</tspan><tspan x="480" dy="23.5">干部更应沉心静气，认真思考各项工作中的"</tspan><tspan x="480" dy="23.5">硬骨头"，继续保持求真务实、担当作为、迎</tspan><tspan x="480" dy="23.5">难而上的良好姿态，把握好三个"不等式"关系</tspan><tspan x="480" dy="23.5">，扎实做好每项工作。</tspan></text></g>
<g id="l27"><text class="t" y="6260"><tspan x="480">"想到"不等于"做到"。截至目前，广大扶贫党</tspan><tspan x="480" dy="23.5">员干部大多已经和困难群众共同生活了较长时</tspan><tspan x="480" dy="23.5">间，对困难地区的整体情况、存在问题等有了</tspan><tspan x="480" dy="23.5">一定了解，对脱贫的思路和方法也逐渐能够侃</tspan><tspan x="480" dy="23.5">侃而谈。但是，我们应该看到，脱贫攻坚是一</tspan><tspan x="480" dy="23.5">项有很强实践性的工作，仅仅头脑中想到好主</tspan><tspan x="480" dy="23.5">意、好点子是远远不够的。只有把思路和计划</tspan><tspan x="480" dy="23.5">转化为能够落地的可行性措施，并经过实践和</tspan><tspan x="480" dy="23.5">时间的检验，才能证明有效与否。广大扶贫党</tspan><tspan x="480" dy="23.5">员干部应牢记"想到了"不等于"做到了"，始终</tspan><tspan x="480" dy="23.5">保持积极大胆的实践精神，用实干苦干的精神</tspan><tspan x="480" dy="23.5">和行动将美好愿景变为现实。</tspan></text></g>
<g id="l28"><text class="t" y="6598"><tspan x="480">"我相信"不等于"真效果"。研究谋划工作的过</tspan><tspan x="480" dy="23.5">程中，经常会说到"我相信会达到_效果"，往</tspan><tspan x="480" dy="23.5">往体现出一种对工作效果的美好希望和预期。</tspan><tspan x="480" dy="23.5">但是，广大扶贫党员干部应注意的是，美好希</tspan><tspan x="480" dy="23.5">望并不等于实际效果。脱贫攻坚是一场实打实</tspan><tspan x="480" dy="23.5">的硬仗，最终结果要靠困难群众生活水平是否</tspan><tspan x="480" dy="23.5">提高的硬指标来说话，扶贫党员干部应始终脚</tspan><tspan x="480" dy="23.5">踏实地，把手头儿的每一件"小事"做好，拿出</tspan><tspan x="480" dy="23.5">真抓实干的扎实作风、越是艰险越向前的冲劲</tspan><tspan x="480" dy="23.5">儿和不破楼兰终不还的韧劲儿，把在"我相信"</tspan><tspan x="480" dy="23.5">变为"真效果"，助力美好愿景成真。</tspan></text></g>

<g id="watermark">
<text class="wm" x="665" y="545" text-anchor="middle" transform="rotate(-28 665 505)">树图 shutu.cn</text>
<text class="wm" x="665" y="1545" text-anchor="middle" transform="rotate(-28 665 1505)">树图 shutu.cn</text>
<text class="wm" x="665" y="2545" text-anchor="middle" transform="rotate(-28 665 2505)">树图 shutu.cn</text>
<text class="wm" x="665" y="3545" text-anchor="middle" transform="rotate(-28 665 3505)">树图 shutu.cn</text>
<text class="wm" x="665" y="4545" text-anchor="middle" transform="rotate(-28 665 4505)">树图 shutu.cn</text>
<text class="wm" x="665" y="5545" text-anchor="middle" transform="rotate(-28 665 5505)">树图 shutu.cn</text>
<text class="wm" x="665" y="6545" text-anchor="middle" transform="rotate(-28 665 6505)">树图 shutu.cn</text>
<text class="wm" x="665" y="7545" text-anchor="middle" transform="rotate(-28 665 7505)">树图 shutu.cn</text>
<text class="wm" x="1945" y="550" text-anchor="middle" transform="rotate(-28 1945 510)">树图 shutu.cn</text>
<text class="wm" x="1945" y="1550" text-anchor="middle" transform="rotate(-28 1945 1510)">树图 shutu.cn</text>
<text class="wm" x="1945" y="2550" text-anchor="middle" transform="rotate(-28 1945 2510)">树图 shutu.cn</text>
<text class="wm" x="1945" y="3550" text-anchor="middle" transform="rotate(-28 1945 3510)">树图 shutu.cn</text>
<text class="wm" x="1945" y="4550" text-anchor="middle" transform="rotate(-28 1945 4510)">树图 shutu.cn</text>
<text class="wm" x="1945" y="5550" text-anchor="middle" transform="rotate(-28 1945 5510)">树图 shutu.cn</text>
<text class="wm" x="1945" y="6550" text-anchor="middle" transform="rotate(-28 1945 6510)">树图 shutu.cn</text>
<text class="wm" x="1945" y="7550" text-anchor="middle" transform="rotate(-28 1945 7510)">树图 shutu.cn</text>
</g>
</g>
</svg>
